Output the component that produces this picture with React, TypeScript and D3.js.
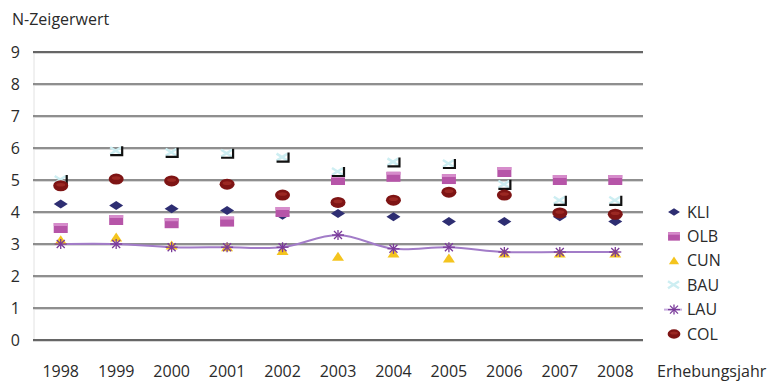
import React from "react";
import * as d3 from "d3";

const years = ["1998", "1999", "2000", "2001", "2002", "2003", "2004", "2005", "2006", "2007", "2008"];
const yTicks = [0, 1, 2, 3, 4, 5, 6, 7, 8, 9];

const kli = [4.25, 4.2, 4.1, 4.05, 3.9, 3.95, 3.85, 3.7, 3.7, 3.85, 3.7];
const olb = [3.5, 3.75, 3.65, 3.7, 4.0, 5.0, 5.1, 5.03, 5.25, 5.0, 5.0];
const cun = [3.12, 3.2, 2.95, 2.9, 2.78, 2.6, 2.7, 2.55, 2.7, 2.7, 2.7];
const bau = [5.0, 5.9, 5.85, 5.82, 5.7, 5.25, 5.55, 5.5, 4.85, 4.35, 4.35];
const lau = [3.0, 3.0, 2.9, 2.9, 2.9, 3.28, 2.85, 2.9, 2.75, 2.75, 2.75];
const col = [4.82, 5.03, 4.97, 4.87, 4.53, 4.3, 4.37, 4.62, 4.53, 3.97, 3.93];

const seriesNames = ["KLI", "OLB", "CUN", "BAU", "LAU", "COL"];

const FONT = "'Open Sans', sans-serif";
const TEXT = "#2a2a2a";
const W = 771;
const H = 383;

const x = d3.scaleBand<string>().domain(years).range([33, 643]).padding(0);
const y = d3.scaleLinear().domain([0, 9]).range([340, 52]);
const cx = (yr: string) => (x(yr) as number) + x.bandwidth() / 2;

function Marker({ kind, px, py, small }: { kind: string; px: number; py: number; small?: boolean }) {
  const s = small ? 0.85 : 1;
  switch (kind) {
    case "KLI":
      return (
        <path
          d={`M${px - 7 * s},${py} L${px},${py - 4.5 * s} L${px + 7 * s},${py} L${px},${py + 4.5 * s} Z`}
          fill="#2e2e72"
        />
      );
    case "OLB":
      return (
        <g>
          <rect x={px - 7 * s} y={py - 5 * s} width={14 * s} height={10 * s} fill="#b655a8" />
          <rect x={px - 7 * s} y={py - 5 * s} width={14 * s} height={3 * s} fill="#d68ccb" />
        </g>
      );
    case "CUN":
      return (
        <path
          d={`M${px - 6 * s},${py + 4 * s} L${px},${py - 5 * s} L${px + 6 * s},${py + 4 * s} Z`}
          fill="#f4c41e"
        />
      );
    case "BAU":
      return (
        <g>
          <path
            d={`M${px - 6},${py - 4} L${px + 5},${py + 3} M${px - 6},${py + 3} L${px + 5},${py - 4}`}
            stroke="#cdeef2"
            strokeWidth={2.5}
          />
          {!small && (
            <path
              d={`M${px + 6},${py - 5} L${px + 6},${py + 4} L${px - 6},${py + 4}`}
              stroke="#111"
              strokeWidth={2.2}
              fill="none"
            />
          )}
        </g>
      );
    case "LAU":
      return (
        <g stroke="#7a3a9a" strokeWidth={1.3}>
          <path d={`M${px - 6},${py} L${px + 6},${py}`} />
          <path d={`M${px - 4},${py - 4} L${px + 4},${py + 4} M${px - 4},${py + 4} L${px + 4},${py - 4}`} />
          <path d={`M${px},${py - 5} L${px},${py + 5}`} />
        </g>
      );
    case "COL":
      return (
        <g>
          <ellipse cx={px} cy={py} rx={7.5 * s} ry={5.5 * s} fill="#7e1414" />
          <ellipse cx={px} cy={py - 1} rx={4.5 * s} ry={1.8 * s} fill="#a8302a" opacity={0.7} />
        </g>
      );
    default:
      return null;
  }
}

export default function App() {
  const data: Record<string, number[]> = { KLI: kli, OLB: olb, CUN: cun, BAU: bau, LAU: lau, COL: col };

  const lauLine = d3
    .line<number>()
    .x((_, i) => cx(years[i]))
    .y((v) => y(v))
    .curve(d3.curveCatmullRom.alpha(0.5));

  const legendX = 672;
  const legendY0 = 212;
  const legendStep = 24.4;

  return (
    <svg width={W} height={H} style={{ position: "absolute", left: 0, top: 0, background: "#fff" }}>
      <rect width={W} height={H} fill="#fff" />
      {/* plot area */}
      <line x1={34} x2={34} y1={52} y2={340} stroke="#e2e2e2" strokeWidth={1} />
      {yTicks.map((t) => (
        <g key={t}>
          <line x1={33} x2={643} y1={y(t) + 1.5} y2={y(t) + 1.5} stroke="#d8d8d8" strokeWidth={1} />
          <line
            x1={33}
            x2={643}
            y1={y(t)}
            y2={y(t)}
            stroke={t === 9 || t === 0 ? "#333" : "#6a6a6a"}
            strokeWidth={1.6}
          />
          <text x={20} y={y(t) + 5.5} textAnchor="end" fontFamily={FONT} fontSize={16} fill={TEXT}>
            {t}
          </text>
        </g>
      ))}

      <text x={12} y={25} fontFamily={FONT} fontSize={16} fill={TEXT}>
        N-Zeigerwert
      </text>

      {years.map((yr) => (
        <text key={yr} x={cx(yr)} y={377} textAnchor="middle" fontFamily={FONT} fontSize={16} fill={TEXT}>
          {yr}
        </text>
      ))}
      <text x={657} y={377} fontFamily={FONT} fontSize={16} fill={TEXT}>
        Erhebungsjahr
      </text>

      {/* LAU smooth line */}
      <path d={lauLine(lau) || ""} fill="none" stroke="#a27cc8" strokeWidth={2} />

      {seriesNames.map((name) => (
        <g key={name}>
          {data[name].map((v, i) => (
            <Marker key={i} kind={name} px={cx(years[i])} py={y(v)} />
          ))}
        </g>
      ))}

      {/* legend */}
      {seriesNames.map((name, i) => {
        const ly = legendY0 + i * legendStep;
        return (
          <g key={name}>
            {name === "LAU" && (
              <line x1={legendX - 8} x2={legendX + 10} y1={ly} y2={ly} stroke="#c8aee0" strokeWidth={2} />
            )}
            <Marker kind={name} px={legendX + 2} py={ly} small />
            <text x={687} y={ly + 5.5} fontFamily={FONT} fontSize={16} fill={TEXT}>
              {name}
            </text>
          </g>
        );
      })}
    </svg>
  );
}
